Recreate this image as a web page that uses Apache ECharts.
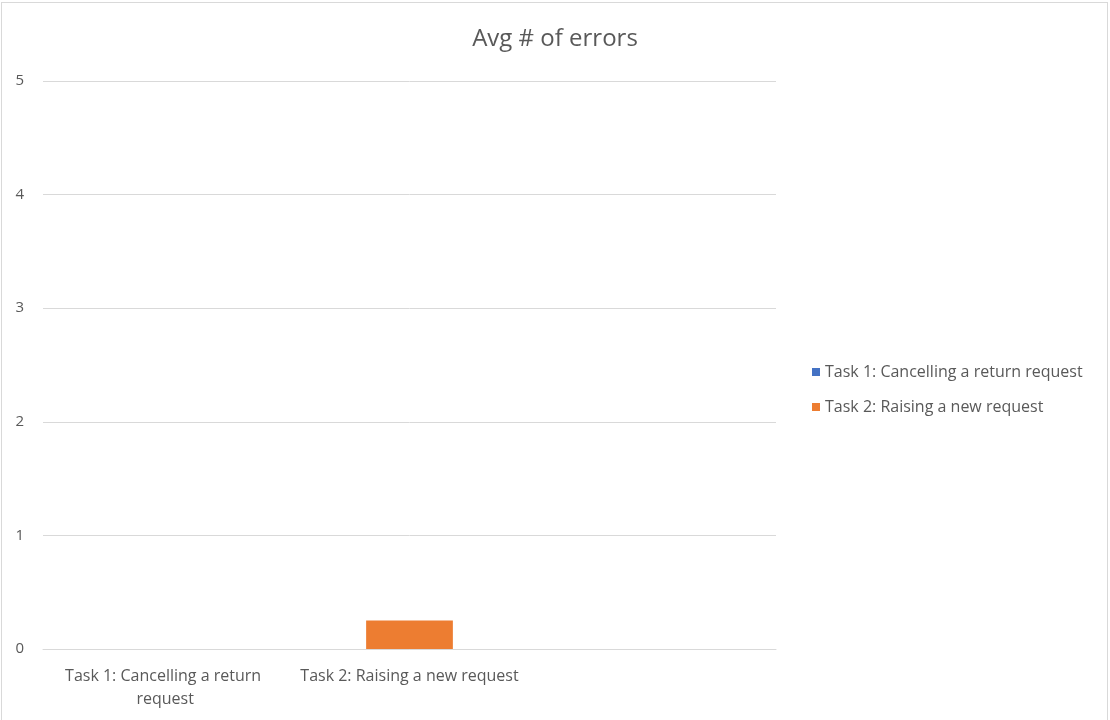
<!DOCTYPE html>
<html>
<head>
<meta charset="utf-8">
<script src="https://cdn.jsdelivr.net/npm/echarts@6/dist/echarts.min.js"></script>
<style>
html,body{margin:0;padding:0;background:#fff;}
#main{position:absolute;left:1px;top:2px;width:1107px;height:720px;border:1px solid #d9d9d9;box-sizing:border-box;}
</style>
</head>
<body>
<div id="main"></div>
<script>
const title = 'Avg # of errors';
const categories = ['Task 1: Cancelling a return request', 'Task 2: Raising a new request', ''];
const seriesNames = ['Task 1: Cancelling a return request', 'Task 2: Raising a new request'];
const task1Values = [0, null, null];
const task2Values = [null, 0.25, null];
const yMin = 0, yMax = 5, yInterval = 1;

const chart = echarts.init(document.getElementById('main'));
const font = 'Open Sans';
chart.setOption({
  animation: false,
  title: {
    text: title, left: 548, top: 19, textAlign: 'center',
    textStyle: {fontFamily: font, fontSize: 24, fontWeight: 'normal', color: '#595959'}
  },
  legend: {
    orient: 'vertical', left: 805, top: 354, itemGap: 15,
    itemWidth: 8, itemHeight: 8, icon: 'rect', itemSpacing: 5,
    textStyle: {fontFamily: font, fontSize: 16, color: '#595959', lineHeight: 20}
  },
  grid: {left: 41, right: 331, top: 78, bottom: 72, containLabel: false},
  xAxis: {
    type: 'category', data: categories,
    axisLine: {lineStyle: {color: '#d9d9d9', width: 1}},
    axisTick: {show: false},
    axisLabel: {fontFamily: font, fontSize: 16, color: '#595959', margin: 16, width: 235, overflow: 'break', lineHeight: 23, interval: 0}
  },
  yAxis: {
    type: 'value', min: yMin, max: yMax, interval: yInterval,
    axisLine: {show: false}, axisTick: {show: false},
    splitLine: {lineStyle: {color: '#d9d9d9', width: 1}},
    axisLabel: {fontFamily: font, fontSize: 15, color: '#595959', margin: 19}
  },
  series: [
    {name: seriesNames[0], type: 'bar', stack: 's', data: task1Values, barWidth: '35.5%', itemStyle: {color: '#4472c4'}},
    {name: seriesNames[1], type: 'bar', stack: 's', data: task2Values, barWidth: '35.5%', itemStyle: {color: '#ed7d31'}}
  ]
});
</script>
</body>
</html>
